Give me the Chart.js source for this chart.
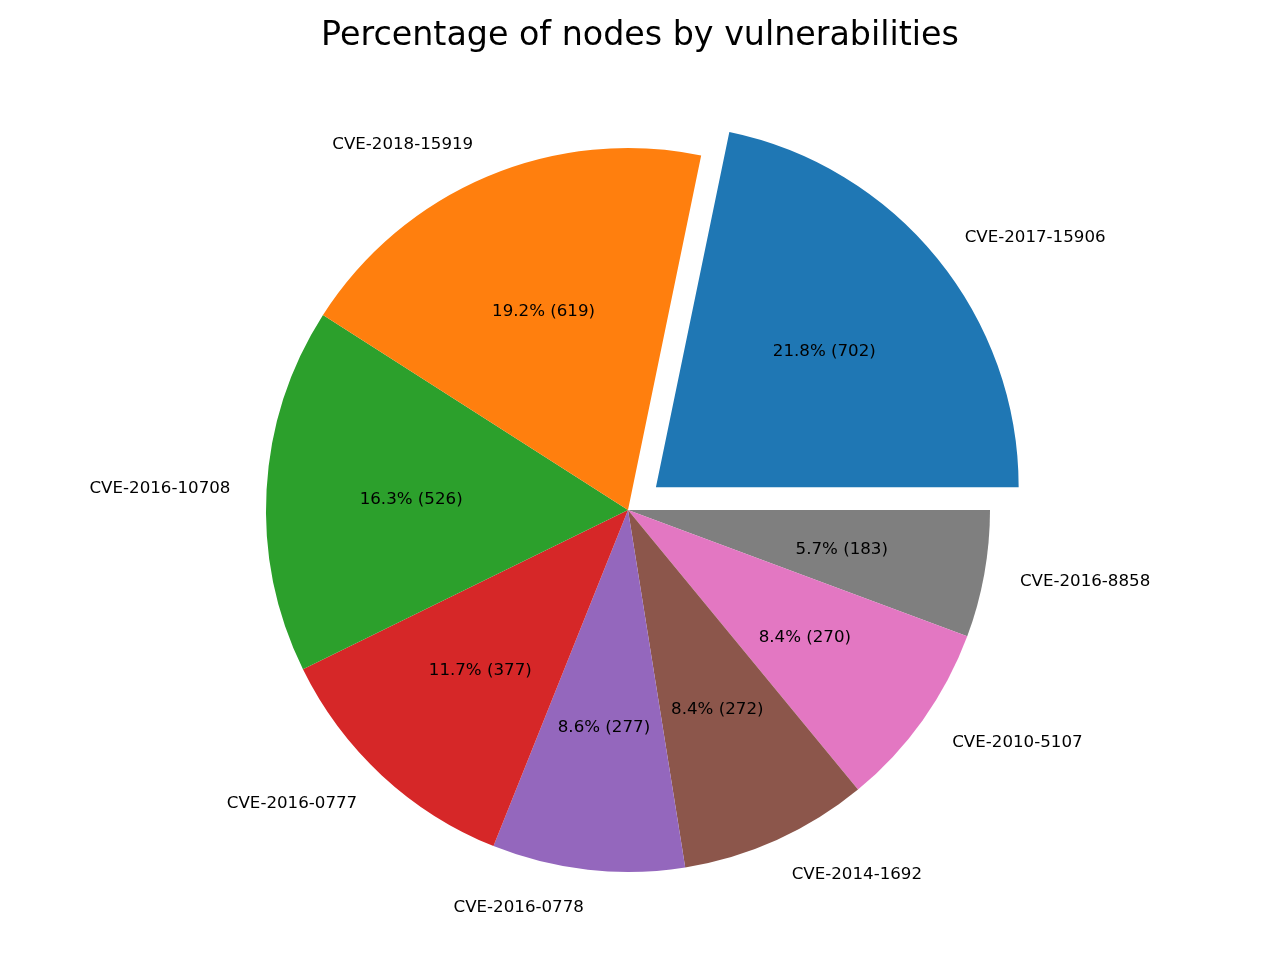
<!DOCTYPE html>
<html>
<head>
<meta charset="utf-8">
<script src="https://cdn.jsdelivr.net/npm/chart.js@4"></script>
<style>
  body { margin: 0; background: #fff; }
  canvas { display: block; }
</style>
</head>
<body>
<canvas id="myChart" width="1280" height="960"></canvas>
<script>
// data in the original (counter-clockwise from east) order
const cves = ['CVE-2017-15906', 'CVE-2018-15919', 'CVE-2016-10708', 'CVE-2016-0777',
              'CVE-2016-0778', 'CVE-2014-1692', 'CVE-2010-5107', 'CVE-2016-8858'];
const nodeCounts = [702, 619, 526, 377, 277, 272, 270, 183];
const sliceColors = ['#1f77b4', '#ff7f0e', '#2ca02c', '#d62728', '#9467bd', '#8c564b', '#e377c2', '#7f7f7f'];
const explode = [36, 0, 0, 0, 0, 0, 0, 0];   // px

const total = nodeCounts.reduce((a, b) => a + b, 0);

// Chart.js draws clockwise, so reverse to get the same layout
const labelsR = cves.slice().reverse();
const valuesR = nodeCounts.slice().reverse();
const colorsR = sliceColors.slice().reverse();
const offsetR = explode.slice().reverse();

const FONT = 'DejaVu Sans, sans-serif';

const pieText = {
  id: 'pieText',
  afterDatasetsDraw(chart) {
    const ctx = chart.ctx;
    const arcs = chart.getDatasetMeta(0).data;
    ctx.save();
    ctx.fillStyle = '#000';
    ctx.font = '16.67px ' + FONT;
    ctx.textBaseline = 'middle';
    arcs.forEach((arc, i) => {
      const p = arc.getProps(['x', 'y', 'startAngle', 'endAngle', 'outerRadius']);
      const mid = (p.startAngle + p.endAngle) / 2;
      const off = offsetR[i];
      const cx = p.x + Math.cos(mid) * off;
      const cy = p.y + Math.sin(mid) * off + 1.5;
      const r = p.outerRadius;
      const v = valuesR[i];
      // percentage label
      ctx.textAlign = 'center';
      ctx.fillText((v / total * 100).toFixed(1) + '% (' + v + ')',
        cx + Math.cos(mid) * r * 0.6, cy + Math.sin(mid) * r * 0.6);
      // name label
      const lx = cx + Math.cos(mid) * r * 1.1;
      const ly = cy + Math.sin(mid) * r * 1.1;
      ctx.textAlign = Math.cos(mid) > 0 ? 'left' : 'right';
      ctx.fillText(labelsR[i], lx, ly);
    });
    // title
    ctx.textAlign = 'center';
    ctx.font = '33.3px ' + FONT;
    ctx.fillText('Percentage of nodes by vulnerabilities', 640, 36);
    ctx.restore();
  }
};

new Chart(document.getElementById('myChart'), {
  type: 'pie',
  data: {
    labels: labelsR,
    datasets: [{
      data: valuesR,
      backgroundColor: colorsR,
      borderWidth: 0,
      offset: offsetR.map(o => o * 4),   // arc draws offset / 4
      hoverOffset: 0
    }]
  },
  options: {
    responsive: false,
    animation: false,
    devicePixelRatio: 1,
    rotation: 90,
    radius: 362,
    layout: { padding: { left: 0, right: 24, top: 60, bottom: 0 } },
    plugins: {
      legend: { display: false },
      tooltip: { enabled: false }
    }
  },
  plugins: [pieText]
});
</script>
</body>
</html>
